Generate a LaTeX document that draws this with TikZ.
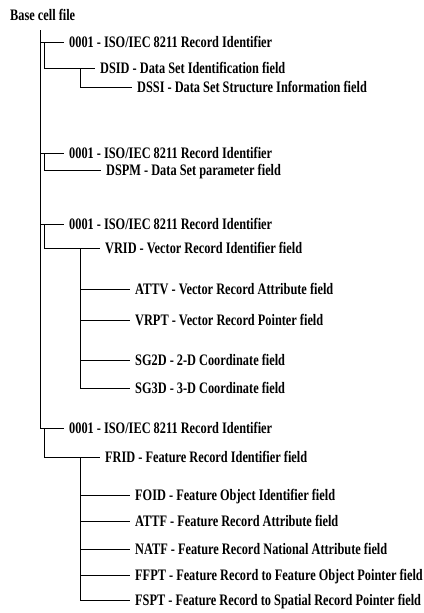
\documentclass[tikz,border=0pt]{standalone}
\usepackage{fontspec}
\setmainfont{Liberation Serif}[FakeStretch=0.77]
\begin{document}
\begin{tikzpicture}[x=1pt,y=-1pt,
  lbl/.style={anchor=west,inner sep=2pt,text height=12pt,text depth=2pt,
    font=\fontsize{16}{19}\selectfont\bfseries},
  conn/.style={line width=1pt,shorten >=3.5pt}]
\useasboundingbox (0,0) rectangle (423,613);
% labels
\node[lbl] (base) at (8,15) {Base cell file};
\node[lbl] (r1) at (67,42) {0001 - ISO/IEC 8211 Record Identifier};
\node[lbl] (dsid) at (98,68) {DSID - Data Set Identification field};
\node[lbl] (dssi) at (135,87) {DSSI - Data Set Structure Information field};
\node[lbl] (r2) at (67,153) {0001 - ISO/IEC 8211 Record Identifier};
\node[lbl] (dspm) at (104,170) {DSPM - Data Set parameter field};
\node[lbl] (r3) at (67,224) {0001 - ISO/IEC 8211 Record Identifier};
\node[lbl] (vrid) at (103,248) {VRID - Vector Record Identifier field};
\node[lbl] (attv) at (133,289) {ATTV - Vector Record Attribute field};
\node[lbl] (vrpt) at (133,320) {VRPT - Vector Record Pointer field};
\node[lbl] (sg2d) at (133,360) {SG2D - 2-D Coordinate field};
\node[lbl] (sg3d) at (133,388) {SG3D - 3-D Coordinate field};
\node[lbl] (r4) at (67,428) {0001 - ISO/IEC 8211 Record Identifier};
\node[lbl] (frid) at (103,457) {FRID - Feature Record Identifier field};
\node[lbl] (foid) at (133,495) {FOID - Feature Object Identifier field};
\node[lbl] (attf) at (133,521) {ATTF - Feature Record Attribute field};
\node[lbl] (natf) at (133,549) {NATF - Feature Record National Attribute field};
\node[lbl] (ffpt) at (133,575) {FFPT - Feature Record to Feature Object Pointer field};
\node[lbl] (fspt) at (133,600) {FSPT - Feature Record to Spatial Record Pointer field};
% junction columns
\coordinate (main) at (40,30);
\coordinate (sec) at (44,30);
\coordinate (sub) at (80,30);
% main trunk
\draw[conn] (main) |- (r4.west);
\draw[conn] (main |- r1.west) -- (r1.west);
\draw[conn] (main |- r2.west) -- (r2.west);
\draw[conn] (main |- r3.west) -- (r3.west);
% group 1
\draw[conn] (sec |- r1.west) |- (dsid.west);
\draw[conn] (sub |- dsid.west) |- (dssi.west);
% group 2
\draw[conn] (sec |- r2.west) |- (dspm.west);
% group 3
\draw[conn] (sec |- r3.west) |- (vrid.west);
\draw[conn] (sub |- vrid.west) |- (sg3d.west);
\draw[conn] (sub |- attv.west) -- (attv.west);
\draw[conn] (sub |- vrpt.west) -- (vrpt.west);
\draw[conn] (sub |- sg2d.west) -- (sg2d.west);
% group 4
\draw[conn] (sec |- r4.west) |- (frid.west);
\draw[conn] (sub |- frid.west) |- (fspt.west);
\draw[conn] (sub |- foid.west) -- (foid.west);
\draw[conn] (sub |- attf.west) -- (attf.west);
\draw[conn] (sub |- natf.west) -- (natf.west);
\draw[conn] (sub |- ffpt.west) -- (ffpt.west);
\end{tikzpicture}
\end{document}
